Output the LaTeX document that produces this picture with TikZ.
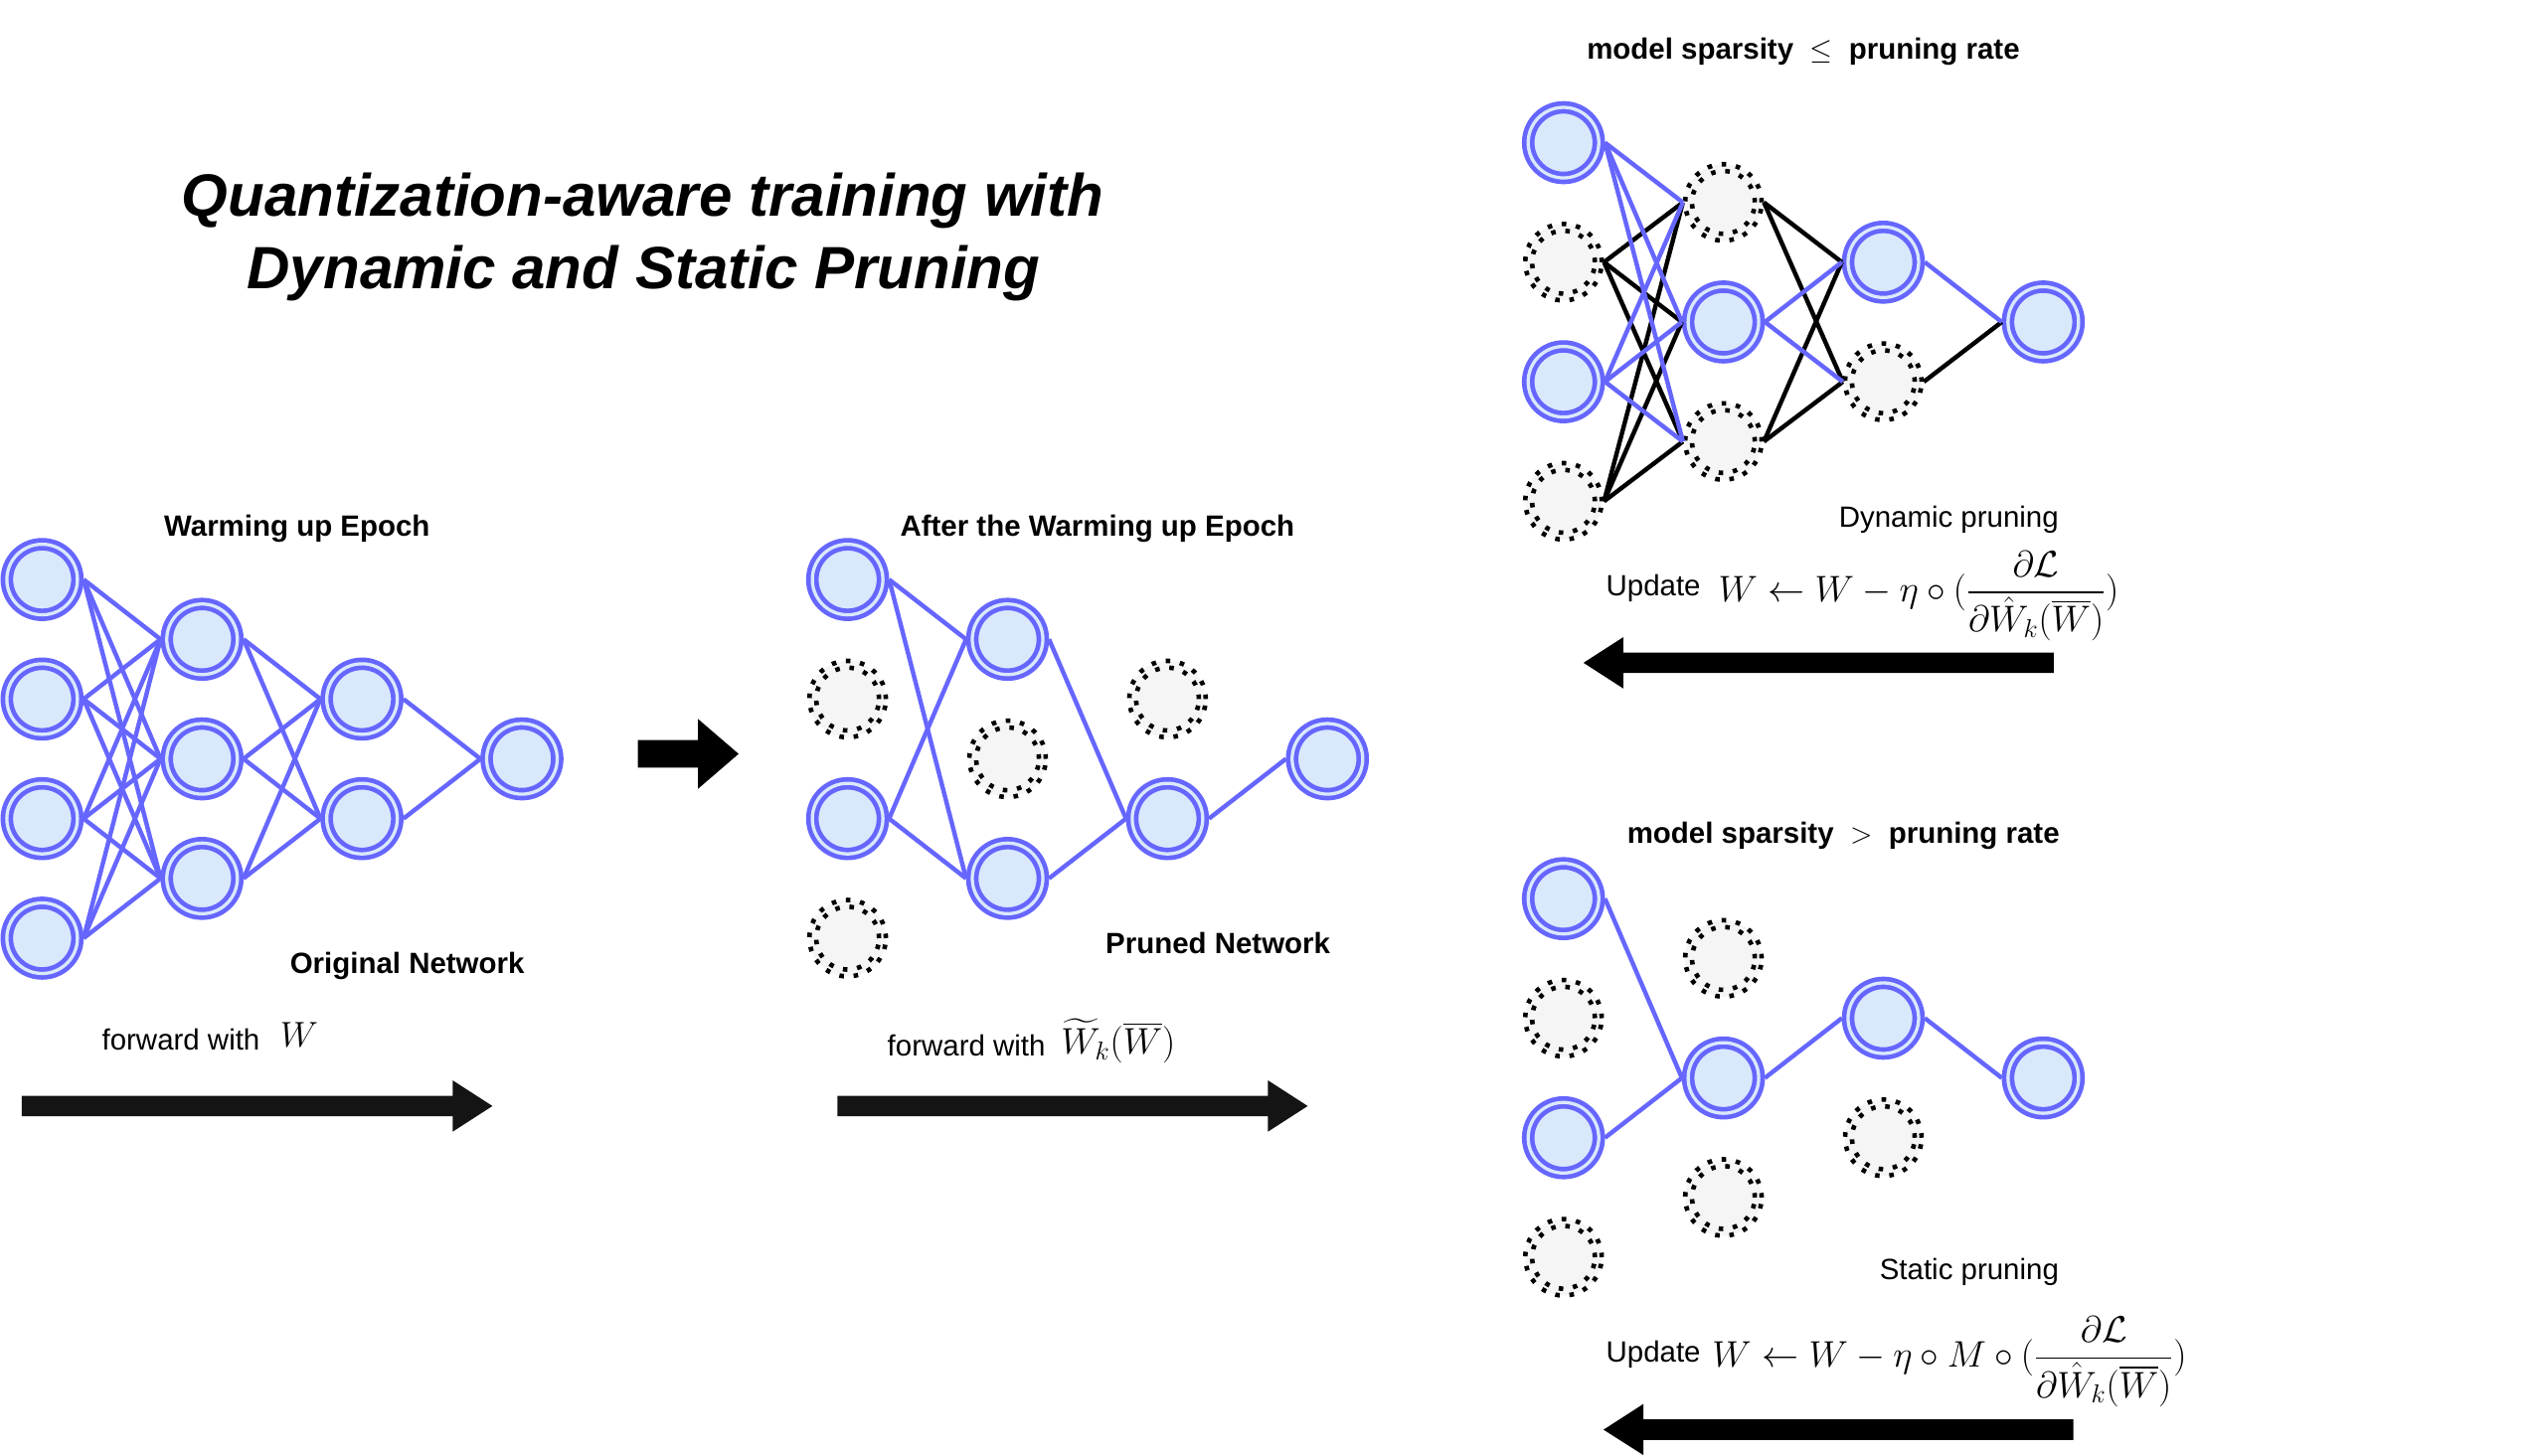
\RequirePackage{fix-cm}
\documentclass[tikz,border=0pt]{standalone}
\usepackage{amsmath}
\usepackage[no-math]{fontspec}
\setmainfont{Liberation Sans}
\setsansfont{Liberation Sans}
\definecolor{nblue}{HTML}{6666FF}
\definecolor{nfill}{HTML}{DAE8FC}
\definecolor{ofill}{HTML}{F5F5F5}
\definecolor{farrow}{HTML}{141414}
\tikzset{
  onnode/.style={circle, minimum size=43.4pt, inner sep=0pt, outer sep=3.8pt,
    draw=nblue, line width=2.85pt, double=nfill, double distance=2pt, fill=nfill},
  offnode/.style={circle, minimum size=47pt, inner sep=0pt, outer sep=1.4pt,
    fill=ofill, draw=black, line width=2.8pt, dash pattern=on 2.8pt off 6pt,
    path picture={\draw[black, line width=2.8pt, dash pattern=on 2.8pt off 6pt]
      (path picture bounding box.center) circle[radius=19.3pt];}},
  bedge/.style={draw=nblue, line width=2.7pt},
  kedge/.style={draw=black, line width=2.7pt},
  lbl/.style={inner sep=0pt, anchor=base, font=\fontsize{18}{21.6}\selectfont},
  blbl/.style={inner sep=0pt, anchor=base, font=\fontsize{18}{21.6}\selectfont\bfseries},
  mth/.style={inner sep=0pt, anchor=base west, font=\fontsize{22}{26.4}\selectfont},
  bigmth/.style={inner sep=0pt, anchor=base west, font=\fontsize{22.7}{27}\selectfont},
  ttl/.style={inner sep=0pt, anchor=base, font=\fontsize{36.7}{44}\selectfont\bfseries\itshape},
  farr/.style={fill=farrow},
  barr/.style={fill=black}
}
\begin{document}
\begin{tikzpicture}[x=1pt,y=-1pt]
\fill[white] (0,0) rectangle (1560,894.6);
\useasboundingbox (0,0) rectangle (1560,894.6);

% ---------- title ----------
\node[ttl] (title1) at (395,132.8) {Quantization-aware training with};
\node[ttl] (title2) at (395.6,177.2) {Dynamic and Static Pruning};

% ---------- network 1 : original ----------
\node[onnode] (p1a1) at (25.9,356.3) {};
\node[onnode] (p1a2) at (25.9,429.8) {};
\node[onnode] (p1a3) at (25.9,503.3) {};
\node[onnode] (p1a4) at (25.9,576.8) {};
\node[onnode] (p1b1) at (124.2,393.05) {};
\node[onnode] (p1b2) at (124.2,466.55) {};
\node[onnode] (p1b3) at (124.2,540.05) {};
\node[onnode] (p1c1) at (222.5,429.8) {};
\node[onnode] (p1c2) at (222.5,503.3) {};
\node[onnode] (p1d1) at (320.8,466.55) {};
\foreach \i in {1,...,4} \foreach \j in {1,2,3} \draw[bedge] (p1a\i.east) -- (p1b\j.west);
\foreach \i in {1,2,3} \foreach \j in {1,2} \draw[bedge] (p1b\i.east) -- (p1c\j.west);
\foreach \i in {1,2} \draw[bedge] (p1c\i.east) -- (p1d1.west);

\node[blbl] (lwarm) at (182.6,329.5) {Warming up Epoch};
\node[blbl] (lorig) at (250.3,598.4) {Original Network};
\node[lbl, anchor=base west] (lfw1) at (62.5,645.6) {forward with};
\node[mth] (mfw1) at (172,644) {$W$};
\fill[farr] (13.4,673.7) -- (278.2,673.7) -- (278.2,664.2) -- (302.7,680) -- (278.2,695.8) -- (278.2,686.3) -- (13.4,686.3) -- cycle;

% ---------- middle arrow ----------
\fill[barr] (392,455) -- (429,455) -- (429,442) -- (454,463.5) -- (429,485) -- (429,472) -- (392,472) -- cycle;

% ---------- network 2 : pruned ----------
\node[onnode]  (p2a1) at (521.0,356.3) {};
\node[offnode] (p2a2) at (521.0,429.8) {};
\node[onnode]  (p2a3) at (521.0,503.3) {};
\node[offnode] (p2a4) at (521.0,576.8) {};
\node[onnode]  (p2b1) at (619.3,393.05) {};
\node[offnode] (p2b2) at (619.3,466.55) {};
\node[onnode]  (p2b3) at (619.3,540.05) {};
\node[offnode] (p2c1) at (717.6,429.8) {};
\node[onnode]  (p2c2) at (717.6,503.3) {};
\node[onnode]  (p2d1) at (815.9,466.55) {};
\foreach \i in {1,3} \foreach \j in {1,3} \draw[bedge] (p2a\i.east) -- (p2b\j.west);
\foreach \i in {1,3} \draw[bedge] (p2b\i.east) -- (p2c2.west);
\draw[bedge] (p2c2.east) -- (p2d1.west);

\node[blbl] (lafter) at (674.5,329.5) {After the Warming up Epoch};
\node[blbl] (lpruned) at (748.6,586.2) {Pruned Network};
\node[lbl, anchor=base west] (lfw2) at (545.3,649.4) {forward with};
\node[bigmth] (mfw2) at (652,648.2) {$\widetilde{W}_k(\overline{W})$};
\fill[farr] (514.7,673.7) -- (779.3,673.7) -- (779.3,664.2) -- (803.8,680) -- (779.3,695.8) -- (779.3,686.3) -- (514.7,686.3) -- cycle;

% ---------- network 3 : dynamic pruning ----------
\node[onnode]  (p3a1) at (961.0,87.7) {};
\node[offnode] (p3a2) at (961.0,161.2) {};
\node[onnode]  (p3a3) at (961.0,234.7) {};
\node[offnode] (p3a4) at (961.0,308.2) {};
\node[offnode] (p3b1) at (1059.3,124.45) {};
\node[onnode]  (p3b2) at (1059.3,197.95) {};
\node[offnode] (p3b3) at (1059.3,271.45) {};
\node[onnode]  (p3c1) at (1157.6,161.2) {};
\node[offnode] (p3c2) at (1157.6,234.7) {};
\node[onnode]  (p3d1) at (1255.9,197.95) {};
\foreach \i/\s in {2/kedge,4/kedge,1/bedge,3/bedge} \foreach \j in {1,2,3} \draw[\s] (p3a\i.east) -- (p3b\j.west);
\foreach \i/\s in {1/kedge,3/kedge,2/bedge} \foreach \j in {1,2} \draw[\s] (p3b\i.east) -- (p3c\j.west);
\draw[kedge] (p3c2.east) -- (p3d1.west);
\draw[bedge] (p3c1.east) -- (p3d1.west);

\node[blbl] (ldyn) at (1108.4,36.2) {model sparsity\ \ $\leq$\ \ pruning rate};
\node[lbl] (ldynp) at (1197.8,324.4) {Dynamic pruning};
\node[lbl, anchor=base west] (lupd1) at (987,366.3) {Update};
\node[bigmth] (mupd1) at (1056,369.8) {$\displaystyle W \leftarrow W - \eta \circ (\frac{\partial \mathcal{L}}{\partial \hat{W}_k(\overline{W})})$};
\fill[barr] (1262.4,401.2) -- (997.8,401.2) -- (997.8,391.7) -- (973.3,407.5) -- (997.8,423.3) -- (997.8,413.8) -- (1262.4,413.8) -- cycle;

% ---------- network 4 : static pruning ----------
\node[onnode]  (p4a1) at (961.0,552.5) {};
\node[offnode] (p4a2) at (961.0,626.0) {};
\node[onnode]  (p4a3) at (961.0,699.5) {};
\node[offnode] (p4a4) at (961.0,773.0) {};
\node[offnode] (p4b1) at (1059.3,589.25) {};
\node[onnode]  (p4b2) at (1059.3,662.75) {};
\node[offnode] (p4b3) at (1059.3,736.25) {};
\node[onnode]  (p4c1) at (1157.6,626.0) {};
\node[offnode] (p4c2) at (1157.6,699.5) {};
\node[onnode]  (p4d1) at (1255.9,662.75) {};
\foreach \i in {1,3} \draw[bedge] (p4a\i.east) -- (p4b2.west);
\draw[bedge] (p4b2.east) -- (p4c1.west);
\draw[bedge] (p4c1.east) -- (p4d1.west);

\node[blbl] (lsta) at (1133,518.5) {model sparsity\ \ $>$\ \ pruning rate};
\node[lbl] (lstap) at (1210.4,787) {Static pruning};
\node[lbl, anchor=base west] (lupd2) at (987,837.5) {Update};
\node[bigmth] (mupd2) at (1052.3,840.5) {$\displaystyle W \leftarrow W - \eta \circ M \circ (\frac{\partial \mathcal{L}}{\partial \hat{W}_k(\overline{W})})$};
\fill[barr] (1274.4,872.7) -- (1010.1,872.7) -- (1010.1,863.2) -- (985.6,879) -- (1010.1,894.6) -- (1010.1,885.3) -- (1274.4,885.3) -- cycle;
\end{tikzpicture}
\end{document}
